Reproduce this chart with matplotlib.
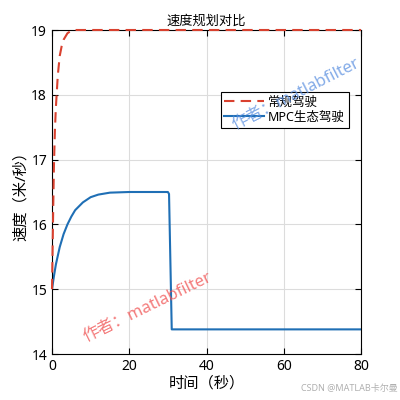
import matplotlib
matplotlib.use("Agg")
import matplotlib.pyplot as plt

plt.rcParams['font.family'] = ['Noto Sans', 'Noto Sans CJK SC', 'DejaVu Sans']

#%% data
t_normal = [0, 0.15, 0.3, 0.5, 0.75, 1.0, 1.25, 1.5, 2.0, 2.5, 3.0, 4.0, 5.0, 6.0, 80]
v_normal = [15.0, 15.6, 16.2, 16.9, 17.45, 17.8, 18.05, 18.3, 18.6, 18.75, 18.85, 18.95, 18.99, 19.0, 19.0]

t_mpc = [0, 0.5, 1, 2, 3, 4, 5, 6, 8, 10, 12, 15, 20, 30, 30.3, 31.0, 80]
v_mpc = [15.0, 15.2, 15.38, 15.65, 15.85, 16.0, 16.12, 16.22, 16.34, 16.42, 16.46, 16.49, 16.5, 16.5, 16.47, 14.38, 14.38]

#%% plot
fig = plt.figure(figsize=(4, 4), dpi=100)
ax = fig.add_axes([0.13, 0.115, 0.7725, 0.81])
ax.plot(t_normal, v_normal, '--', color='#d9412f', lw=1.5, label='常规驾驶',
        dashes=(5, 3), clip_on=False, zorder=5)
ax.plot(t_mpc, v_mpc, '-', color='#1f6fb5', lw=1.5, label='MPC生态驾驶')
ax.set_xlim(0, 80)
ax.set_ylim(14, 19)
ax.set_xticks([0, 20, 40, 60, 80])
ax.set_yticks([14, 15, 16, 17, 18, 19])
ax.tick_params(direction='in', top=True, right=True, labelsize=10, length=4)
ax.grid(True, color='#dcdcdc', lw=0.8)
ax.set_title('速度规划对比', fontsize=9.5, pad=4)
ax.set_xlabel('时间（秒）', fontsize=11, labelpad=2)
ax.set_ylabel('速度（米/秒）', fontsize=11, labelpad=2)
leg = ax.legend(loc='upper right', bbox_to_anchor=(0.96, 0.81), fontsize=9,
                fancybox=False, edgecolor='black', framealpha=1,
                handlelength=3.2, borderpad=0.3, labelspacing=0.2, handletextpad=0.3,
                borderaxespad=0)
leg.get_frame().set_linewidth(0.8)

fig.text(0.37, 0.23, '作者：matlabfilter', color='#f05050', alpha=0.75,
         fontsize=12, rotation=26, ha='center', va='center')
fig.text(0.74, 0.7625, '作者：matlabfilter', color='#5a8fe0', alpha=0.75,
         fontsize=12, rotation=27, ha='center', va='center')
fig.text(0.995, 0.03, 'CSDN @MATLAB卡尔曼', color='#b0b0b0', fontsize=6.5,
         ha='right', va='center')

fig.savefig('out.png', dpi=100)
